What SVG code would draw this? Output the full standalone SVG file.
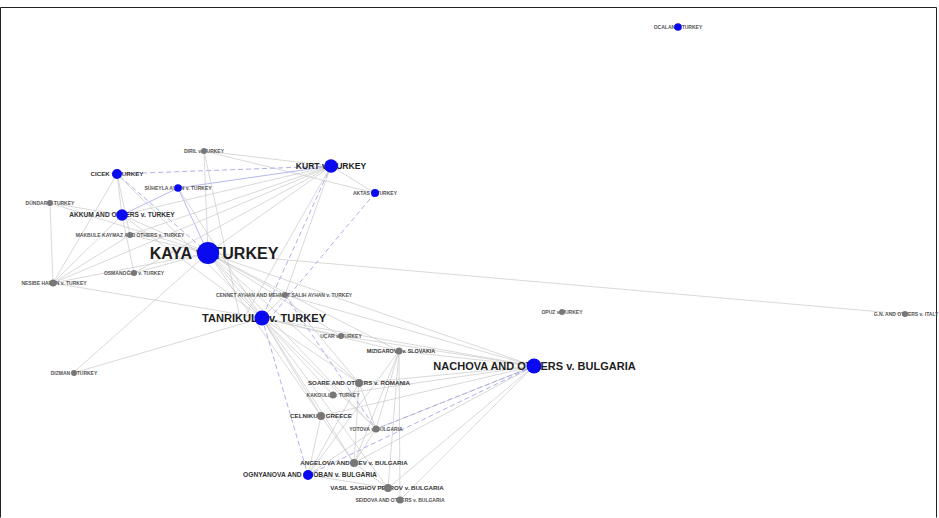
<svg xmlns="http://www.w3.org/2000/svg" width="939" height="518" viewBox="0 0 939 518">
<style>
.e{stroke:#c9c9c9;stroke-width:0.7;fill:none}
.b{stroke:#9a9ae8;stroke-width:0.8;fill:none;stroke-dasharray:5,3}
.bs{stroke:#a5a5ee;stroke-width:0.8;fill:none}
text{font-family:"Liberation Sans",Arial,sans-serif;font-weight:bold;text-anchor:middle}
.s{font-size:5px;fill:#555}
.m{font-size:6.2px;fill:#333}
.l{fill:#1e1e1e}
.bl{fill:#0a0af0}
.gr{fill:#777}
</style>
<rect x="0" y="0" width="939" height="518" fill="#fff"/>
<path d="M0.5 517.5V7.5H936.5V517.5" fill="none" stroke="#222" stroke-width="1"/>
<g id="edges">
<line class="e" x1="208" y1="253" x2="331" y2="166"/>
<line class="e" x1="208" y1="253" x2="122" y2="215"/>
<line class="e" x1="208" y1="253" x2="53" y2="283"/>
<line class="e" x1="208" y1="253" x2="73" y2="373"/>
<line class="e" x1="208" y1="253" x2="262" y2="318"/>
<line class="e" x1="208" y1="253" x2="534" y2="366"/>
<line class="e" x1="208" y1="253" x2="905" y2="314"/>
<line class="e" x1="208" y1="253" x2="285" y2="295"/>
<line class="e" x1="208" y1="253" x2="359" y2="383"/>
<line class="e" x1="208" y1="253" x2="399" y2="351"/>
<line class="e" x1="208" y1="253" x2="341" y2="336"/>
<line class="e" x1="208" y1="253" x2="204" y2="151"/>
<line class="e" x1="208" y1="253" x2="130" y2="235"/>
<line class="e" x1="208" y1="253" x2="134" y2="273"/>
<line class="e" x1="208" y1="253" x2="321" y2="416"/>
<line class="e" x1="208" y1="253" x2="376" y2="429"/>
<line class="e" x1="208" y1="253" x2="50" y2="203"/>
<line class="b" x1="208" y1="253" x2="117" y2="174"/>
<line class="bs" x1="208" y1="253" x2="178" y2="188"/>
<line class="e" x1="331" y1="166" x2="204" y2="151"/>
<line class="e" x1="331" y1="166" x2="375" y2="193"/>
<line class="e" x1="204" y1="151" x2="375" y2="193"/>
<line class="b" x1="331" y1="166" x2="117" y2="174"/>
<line class="bs" x1="331" y1="166" x2="178" y2="188"/>
<line class="b" x1="331" y1="166" x2="262" y2="318"/>
<line class="e" x1="331" y1="166" x2="122" y2="215"/>
<line class="e" x1="331" y1="166" x2="130" y2="235"/>
<line class="e" x1="331" y1="166" x2="134" y2="273"/>
<line class="e" x1="331" y1="166" x2="53" y2="283"/>
<line class="e" x1="331" y1="166" x2="285" y2="295"/>
<line class="e" x1="331" y1="166" x2="244" y2="318"/>
<line class="e" x1="204" y1="151" x2="240" y2="318"/>
<line class="b" x1="375" y1="193" x2="270" y2="318"/>
<line class="e" x1="117" y1="174" x2="122" y2="215"/>
<line class="e" x1="117" y1="174" x2="53" y2="283"/>
<line class="e" x1="117" y1="174" x2="130" y2="235"/>
<line class="e" x1="117" y1="174" x2="262" y2="318"/>
<line class="bs" x1="122" y1="215" x2="178" y2="188"/>
<line class="e" x1="178" y1="188" x2="262" y2="318"/>
<line class="e" x1="122" y1="215" x2="50" y2="203"/>
<line class="e" x1="122" y1="215" x2="53" y2="283"/>
<line class="e" x1="122" y1="215" x2="134" y2="273"/>
<line class="e" x1="122" y1="215" x2="262" y2="318"/>
<line class="e" x1="50" y1="203" x2="53" y2="283"/>
<line class="e" x1="53" y1="283" x2="262" y2="318"/>
<line class="e" x1="53" y1="283" x2="130" y2="235"/>
<line class="e" x1="73" y1="373" x2="262" y2="318"/>
<line class="e" x1="262" y1="318" x2="534" y2="366"/>
<line class="e" x1="262" y1="318" x2="341" y2="336"/>
<line class="e" x1="262" y1="318" x2="399" y2="351"/>
<line class="e" x1="262" y1="318" x2="359" y2="383"/>
<line class="e" x1="262" y1="318" x2="321" y2="416"/>
<line class="e" x1="262" y1="318" x2="376" y2="429"/>
<line class="e" x1="262" y1="318" x2="354" y2="463"/>
<line class="e" x1="262" y1="318" x2="388" y2="488"/>
<line class="e" x1="262" y1="318" x2="333" y2="395"/>
<line class="e" x1="262" y1="318" x2="285" y2="295"/>
<line class="b" x1="262" y1="318" x2="308" y2="475"/>
<line class="e" x1="534" y1="366" x2="285" y2="295"/>
<line class="e" x1="534" y1="366" x2="359" y2="383"/>
<line class="e" x1="534" y1="366" x2="399" y2="351"/>
<line class="e" x1="534" y1="366" x2="376" y2="429"/>
<line class="e" x1="534" y1="366" x2="354" y2="463"/>
<line class="e" x1="534" y1="366" x2="388" y2="488"/>
<line class="e" x1="534" y1="366" x2="400" y2="500"/>
<line class="e" x1="534" y1="366" x2="321" y2="416"/>
<line class="e" x1="534" y1="366" x2="333" y2="395"/>
<line class="e" x1="534" y1="366" x2="341" y2="336"/>
<line class="b" x1="534" y1="366" x2="308" y2="475"/>
<line class="b" x1="534" y1="366" x2="376" y2="429"/>
<line class="e" x1="399" y1="351" x2="388" y2="488"/>
<line class="e" x1="399" y1="351" x2="400" y2="500"/>
<line class="e" x1="399" y1="351" x2="354" y2="463"/>
<line class="e" x1="399" y1="351" x2="376" y2="429"/>
<line class="e" x1="399" y1="351" x2="308" y2="475"/>
<line class="e" x1="359" y1="383" x2="308" y2="475"/>
<line class="e" x1="359" y1="383" x2="376" y2="429"/>
<line class="e" x1="359" y1="383" x2="354" y2="463"/>
<line class="e" x1="321" y1="416" x2="308" y2="475"/>
<line class="e" x1="321" y1="416" x2="354" y2="463"/>
<line class="e" x1="376" y1="429" x2="308" y2="475"/>
<line class="e" x1="376" y1="429" x2="354" y2="463"/>
<line class="e" x1="354" y1="463" x2="388" y2="488"/>
<line class="e" x1="308" y1="475" x2="388" y2="488"/>
<line class="b" x1="285" y1="295" x2="376" y2="429"/>
<line class="e" x1="285" y1="295" x2="359" y2="383"/>
</g>
<g id="ocalan"><text class="s" x="678" y="28.8">OCALAN v. TURKEY</text><circle class="bl" cx="678" cy="27" r="3.8"/></g>
<g id="cicek"><text class="m" x="117" y="176.2">CICEK v. TURKEY</text><circle class="bl" cx="117" cy="174" r="5"/></g>
<g id="suheyla"><text class="s" x="178" y="189.8">SÜHEYLA AYDIN v. TURKEY</text><circle class="bl" cx="178" cy="188" r="3.8"/></g>
<g id="diril"><text class="s" x="204" y="152.8">DIRIL v. TURKEY</text><circle class="gr" cx="204" cy="151" r="3"/></g>
<g id="kurt"><text class="l" style="font-size:8.6px" x="331" y="169.1">KURT v. TURKEY</text><circle class="bl" cx="331" cy="166" r="6.8"/></g>
<g id="aktas"><text class="s" x="375" y="194.8">AKTAS v. TURKEY</text><circle class="bl" cx="375" cy="193" r="4"/></g>
<g id="dundar"><text class="s" x="50" y="204.8">DÜNDAR v. TURKEY</text><circle class="gr" cx="50" cy="203" r="3"/></g>
<g id="akkum"><text class="m" style="font-size:6.6px" x="122" y="217.4">AKKUM AND OTHERS v. TURKEY</text><circle class="bl" cx="122" cy="215" r="5.8"/></g>
<g id="makbule"><text class="s" x="130" y="236.8">MAKBULE KAYMAZ AND OTHERS v. TURKEY</text><circle class="gr" cx="130" cy="235" r="3"/></g>
<g id="kaya"><text class="l" style="font-size:16px" x="214" y="258.8">KAYA v. TURKEY</text><circle class="bl" cx="208" cy="253" r="11"/></g>
<g id="osmanoglu"><text class="s" x="134" y="274.8">OSMANOĞLU v. TURKEY</text><circle class="gr" cx="134" cy="273" r="3"/></g>
<g id="nesibe"><text class="s" x="54" y="284.8">NESIBE HARAN v. TURKEY</text><circle class="gr" cx="53" cy="283" r="3.5"/></g>
<g id="cennet"><text class="s" x="284" y="296.8">CENNET AYHAN AND MEHMET SALIH AYHAN v. TURKEY</text><circle class="gr" cx="285" cy="295" r="3"/></g>
<g id="tanrikulu"><text class="l" style="font-size:11.1px" x="264" y="322">TANRIKULU v. TURKEY</text><circle class="bl" cx="262" cy="318" r="7.5"/></g>
<g id="opuz"><text class="s" x="562" y="313.8">OPUZ v. TURKEY</text><circle class="gr" cx="562" cy="312" r="3"/></g>
<g id="gn"><text class="s" x="906" y="315.8">G.N. AND OTHERS v. ITALY</text><circle class="gr" cx="905" cy="314" r="3"/></g>
<g id="ucar"><text class="s" x="341" y="337.8">UÇAR v. TURKEY</text><circle class="gr" cx="341" cy="336" r="3"/></g>
<g id="mizigarova"><text class="m" style="font-size:5.4px" x="401" y="352.9">MIZIGAROVA v. SLOVAKIA</text><circle class="gr" cx="399" cy="351" r="3.5"/></g>
<g id="nachova"><text class="l" style="font-size:11px" x="534.5" y="370">NACHOVA AND OTHERS v. BULGARIA</text><circle class="bl" cx="534" cy="366" r="7.5"/></g>
<g id="dizman"><text class="s" x="74" y="374.8">DIZMAN v. TURKEY</text><circle class="gr" cx="74" cy="373" r="3"/></g>
<g id="soare"><text class="m" x="359" y="385.2">SOARE AND OTHERS v. ROMANIA</text><circle class="gr" cx="359" cy="383" r="4"/></g>
<g id="kakoulli"><text class="s" x="333" y="396.8">KAKOULLI v. TURKEY</text><circle class="gr" cx="333" cy="395" r="3.5"/></g>
<g id="celniku"><text class="m" x="321" y="418.2">CELNIKU v. GREECE</text><circle class="gr" cx="321" cy="416" r="4"/></g>
<g id="yotova"><text class="s" x="376" y="430.8">YOTOVA v. BULGARIA</text><circle class="gr" cx="376" cy="429" r="3.5"/></g>
<g id="angelova"><text class="m" x="354" y="465.2">ANGELOVA AND ILIEV v. BULGARIA</text><circle class="gr" cx="354" cy="463" r="4"/></g>
<g id="ognyanova"><text class="m" style="font-size:6.7px" x="310" y="477.4">OGNYANOVA AND CHOBAN v. BULGARIA</text><circle class="bl" cx="308" cy="475" r="5"/></g>
<g id="vasil"><text class="m" x="387" y="490.2">VASIL SASHOV PETROV v. BULGARIA</text><circle class="gr" cx="388" cy="488" r="4"/></g>
<g id="seidova"><text class="s" x="400" y="501.8">SEIDOVA AND OTHERS v. BULGARIA</text><circle class="gr" cx="400" cy="500" r="3.5"/></g>
</svg>
